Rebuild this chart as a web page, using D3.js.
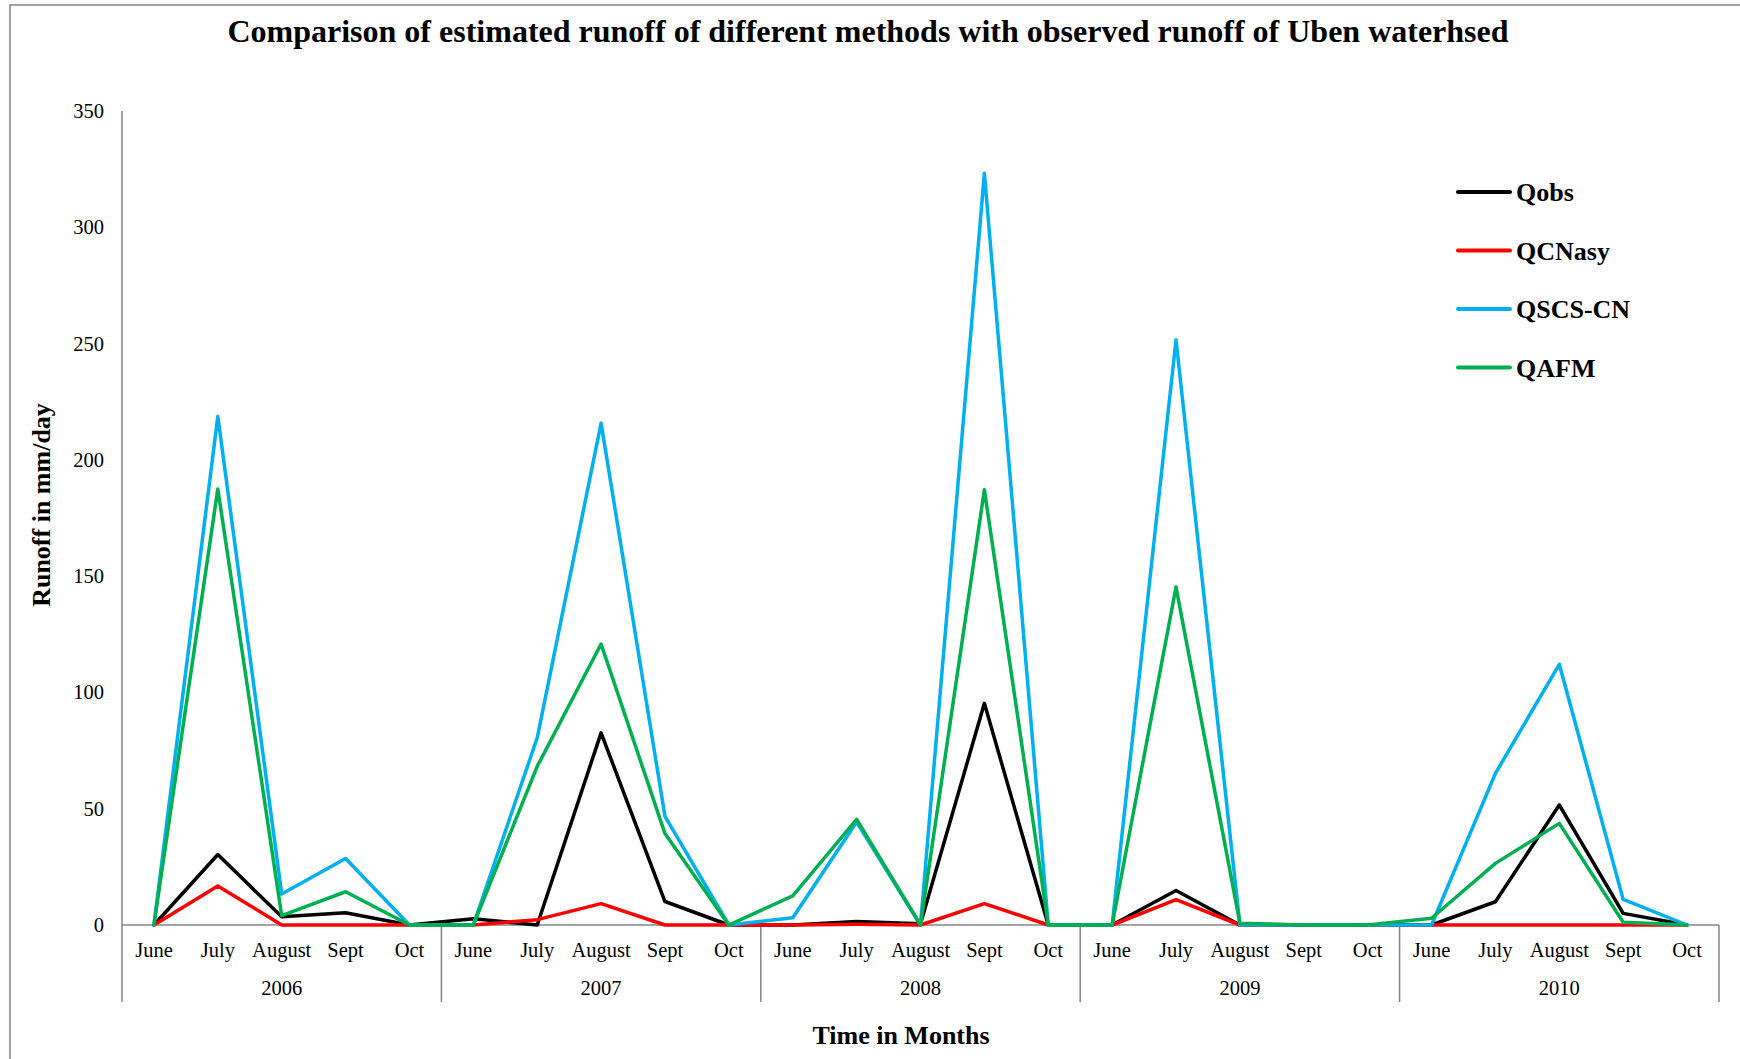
<!DOCTYPE html>
<html>
<head>
<meta charset="utf-8">
<script src="https://cdn.jsdelivr.net/npm/d3@7/dist/d3.min.js"></script>
<style>
  html, body { margin: 0; padding: 0; background: #fff; }
  svg { display: block; }
  text { font-family: "Liberation Serif", "Times New Roman", serif; fill: #000; }
</style>
</head>
<body>
<svg id="chart" width="1740" height="1059"></svg>
<script>
// Monthly runoff (mm/day), June–October for each year 2006–2010
const years = ["2006", "2007", "2008", "2009", "2010"];
const months = ["June", "July", "August", "Sept", "Oct"];

const qObs    = [0, 30.3, 3.5, 5.3, 0,   2.7, 0, 82.6, 10.1, 0,   0, 1.5, 0.5, 95.3, 0,   0, 14.8, 0, 0, 0,   0, 10.0, 51.6, 5.0, 0];
const qCNasy  = [0, 16.8, 0, 0, 0,       0, 2.3, 9.2, 0, 0,       0, 0.3, 0, 9.2, 0,       0, 10.9, 0, 0, 0,   0, 0, 0, 0, 0];
const qSCSCN  = [0, 218.7, 13.3, 28.6, 0, 0, 80.5, 215.8, 46.7, 0, 3.1, 44.3, 0, 323.2, 0, 0, 251.6, 0, 0, 0, 0, 65.2, 112.1, 11.0, 0];
const qAFM    = [0, 187.5, 4.0, 14.3, 0, 0, 68.2, 120.8, 39.3, 0, 12.5, 45.4, 0, 187.2, 0, 0, 145.3, 0.8, 0, 0, 2.9, 26.5, 43.7, 1.2, 0];

const yTicks = [0, 50, 100, 150, 200, 250, 300, 350];

const seriesNames  = ["Qobs", "QCNasy", "QSCS-CN", "QAFM"];
const seriesValues = [qObs, qCNasy, qSCSCN, qAFM];
const seriesColors = ["#000000", "#FF0000", "#00B0F0", "#00B050"];

const title = "Comparison of estimated runoff of different methods with observed runoff of Uben waterhsed";
const yTitle = "Runoff in mm/day";
const xTitle = "Time in Months";

// ---- layout ----
const serif = '"Liberation Serif", "Times New Roman", serif';
const svg = d3.select("#chart");
const plot = { left: 122, right: 1719, top: 111, bottom: 925 };
const axisColor = "#868686";

// Outer frame
svg.append("rect")
  .attr("x", 10).attr("y", 5)
  .attr("width", 1760).attr("height", 1100)
  .attr("fill", "none").attr("stroke", axisColor).attr("stroke-width", 1.5);

// one category per (year, month)
const cats = [];
years.forEach(y => months.forEach(m => cats.push(y + "|" + m)));

const x = d3.scaleBand().domain(cats).range([plot.left, plot.right]).padding(0);
const y = d3.scaleLinear().domain([0, 350]).range([plot.bottom, plot.top]);
const cx = c => x(c) + x.bandwidth() / 2;

// Title
svg.append("text")
  .attr("x", 868).attr("y", 42)
  .attr("text-anchor", "middle")
  .style("font-family", serif)
  .attr("font-size", 32).attr("font-weight", "bold")
  .text(title);

// Y axis (no tick marks, labels only)
const yAxis = d3.axisLeft(y).tickValues(yTicks).tickSize(0).tickPadding(18);
const gy = svg.append("g").attr("transform", `translate(${plot.left},0)`).call(yAxis);
gy.attr("font-family", null);
gy.select(".domain").remove();
gy.selectAll("text")
  .style("font-family", serif)
  .style("font-size", "20.5px").attr("fill", "#000");

// Vertical axis line, extended down through the category rows
svg.append("line")
  .attr("x1", plot.left).attr("x2", plot.left)
  .attr("y1", plot.top).attr("y2", 1002)
  .attr("stroke", axisColor).attr("stroke-width", 1.5);

// Horizontal axis line
svg.append("line")
  .attr("x1", plot.left).attr("x2", plot.right)
  .attr("y1", y(0)).attr("y2", y(0))
  .attr("stroke", axisColor).attr("stroke-width", 1.5);

// Month labels via a band axis
const xAxis = d3.axisBottom(x).tickSize(0).tickPadding(0).tickFormat(d => d.split("|")[1]);
const gx = svg.append("g").attr("transform", `translate(0,${y(0)})`).call(xAxis);
gx.attr("font-family", null);
gx.select(".domain").remove();
gx.selectAll("text")
  .style("font-family", serif)
  .style("font-size", "20.5px").attr("fill", "#000")
  .attr("dy", null).attr("y", 32);

// Year group separators and labels
const groupEdges = years.map(yr => x(yr + "|" + months[0]));
groupEdges.push(plot.right);
groupEdges.slice(1).forEach(xe => {
  svg.append("line")
    .attr("x1", xe).attr("x2", xe)
    .attr("y1", y(0)).attr("y2", 1002)
    .attr("stroke", axisColor).attr("stroke-width", 1.5);
});
years.forEach((yr, i) => {
  svg.append("text")
    .attr("x", (groupEdges[i] + groupEdges[i + 1]) / 2)
    .attr("y", 995)
    .attr("text-anchor", "middle")
    .style("font-family", serif)
    .attr("font-size", 20.5)
    .text(yr);
});

// Axis titles
svg.append("text")
  .attr("transform", `translate(50,505) rotate(-90)`)
  .attr("text-anchor", "middle")
  .style("font-family", serif)
  .attr("font-size", 26).attr("font-weight", "bold")
  .text(yTitle);

svg.append("text")
  .attr("x", 901).attr("y", 1044)
  .attr("text-anchor", "middle")
  .style("font-family", serif)
  .attr("font-size", 26).attr("font-weight", "bold")
  .text(xTitle);

// Series lines
const line = d3.line().x((d, i) => cx(cats[i])).y(d => y(d));
seriesValues.forEach((vals, k) => {
  svg.append("path")
    .datum(vals)
    .attr("d", line)
    .attr("fill", "none")
    .attr("stroke", seriesColors[k])
    .attr("stroke-width", 3.5)
    .attr("stroke-linejoin", "round")
    .attr("stroke-linecap", "round");
});

// Legend
const legend = svg.append("g");
seriesNames.forEach((name, k) => {
  const ly = 192 + k * 58.5;
  legend.append("line")
    .attr("x1", 1458).attr("x2", 1510)
    .attr("y1", ly).attr("y2", ly)
    .attr("stroke", seriesColors[k]).attr("stroke-width", 4)
    .attr("stroke-linecap", "round");
  legend.append("text")
    .attr("x", 1516).attr("y", ly + 9)
    .style("font-family", serif)
    .attr("font-size", 26).attr("font-weight", "bold")
    .text(name);
});
</script>
</body>
</html>
